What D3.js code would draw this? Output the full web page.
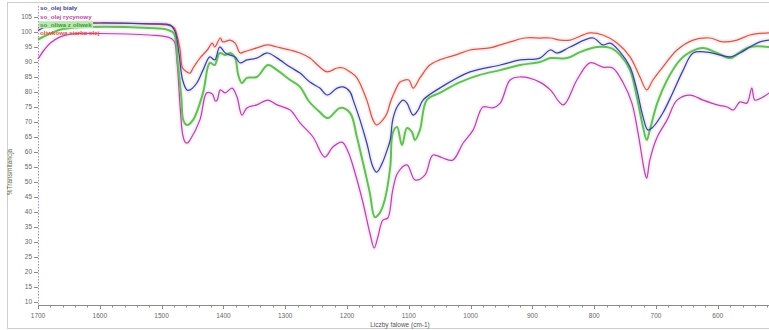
<!DOCTYPE html>
<html>
<head>
<meta charset="utf-8">
<script src="https://cdn.jsdelivr.net/npm/d3@7"></script>
<style>
  body { margin: 0; background: #fff; }
  svg { display: block; font-family: "Liberation Sans", Arial, sans-serif; }
</style>
</head>
<body>
<svg id="chart" width="769" height="330"></svg>
<script>
// FTIR spectra, wavenumber (cm-1) vs %T
const wnBialy = [1700,1685,1660,1600,1520,1486,1478,1472,1466,1459,1454,1443,1433,1422,1414,1406,1397,1389,1381,1373,1362,1346,1329,1313,1292,1276,1260,1244,1232,1216,1206,1195,1190,1179,1168,1158,1152,1143,1135,1130,1126,1119,1109,1103,1093,1085,1077,1050,1001,952,920,888,871,860,839,802,786,774,758,742,731,721,713,705,689,673,656,640,618,596,580,564,548,532,517];
const tBialy  = [100.5,102,102.7,103,102.7,102.3,100,93,84,80.7,80.7,83,87.3,91.7,90.7,95,93,92.3,91.7,89.7,90.7,91.3,93,91.3,88.3,86.3,83.3,81.3,79,81.3,81.7,80,77.3,70.7,63,55,53.3,56.3,60.7,64,70.7,75,77.3,76.3,72.3,74,77.3,81.3,86.7,89,90.7,91.3,94,93,95,98,95.7,96.3,93.3,88.3,80.7,71.7,67.3,68.3,73,79.7,87.3,93,93.3,92.3,91.7,93,95,96.7,97.3];

const wnRycyn = [1700,1690,1680,1665,1648,1600,1520,1490,1480,1475,1470,1466,1462,1458,1454,1438,1427,1418,1413,1410,1405,1397,1386,1378,1370,1362,1346,1328,1313,1292,1276,1255,1236,1223,1208,1198,1187,1174,1163,1156,1150,1142,1134,1126,1118,1103,1090,1074,1061,1045,1029,1012,996,980,964,952,936,920,888,871,850,828,807,786,770,753,739,729,718,715,710,698,682,666,645,624,601,585,575,564,553,545,540,527,517];
const tRycyn  = [91,94,96.3,98.3,99.3,99.5,99,98.3,97,90,75,66,63.3,63,64,70.7,79.7,79.3,77,77.3,80.7,79.7,81.3,78.3,72.3,74.7,75.7,77.3,75.7,74,69.7,65,58.3,61.7,63.3,60,53,43,33,28,31.7,37.3,38,47.3,53,55.7,50.7,52.3,59,58,57.3,63,67.3,75,74.7,76.3,84,85,83.3,80.7,75.7,84,89.7,88.3,88,83,76.3,66.3,53,51.3,57.3,65,70.7,77.3,79,77.3,75.7,75,74,76.7,76.3,81.3,77.3,78.3,79.7];

const wnOliwa = [1700,1680,1660,1620,1520,1490,1480,1474,1468,1465,1459,1449,1433,1422,1414,1406,1397,1389,1381,1376,1370,1362,1346,1328,1313,1292,1276,1262,1245,1231,1211,1195,1184,1174,1163,1155,1147,1139,1130,1126,1119,1111,1103,1095,1090,1082,1071,1050,1017,985,952,920,888,871,844,823,796,774,758,742,731,721,715,710,698,682,661,645,624,601,580,564,548,517];
const tOliwa  = [97.5,99.5,101,101.7,101.3,100.7,99.5,90,78,70.7,69,70.7,79.7,89.7,89,93,92.3,93,91.3,85.7,83,84.7,85,89,87.3,84,81.7,77,73.5,71.3,74.7,73,65,56.3,46.3,38.3,39.7,44,55,66.3,68.3,62.3,68,66.7,64,67.3,77.3,79.7,83.3,85.7,87.3,89,90,91.3,91.3,93.3,95,94.7,92.3,87.3,78.3,68.3,64,67.3,76.3,84,90.7,93.3,94.7,93,91.3,93.3,95,95];

const wnSiarka = [1700,1680,1650,1600,1520,1490,1480,1474,1470,1466,1459,1454,1449,1438,1426,1418,1414,1405,1401,1389,1381,1373,1368,1357,1346,1329,1313,1292,1276,1260,1244,1232,1216,1206,1195,1184,1168,1158,1152,1142,1135,1130,1123,1114,1100,1093,1082,1066,1050,1025,1001,969,936,912,888,871,855,839,807,786,763,742,726,715,705,689,666,640,613,592,569,548,517];
const tSiarka  = [101.5,102.5,103,103,102.7,102.3,101.5,98,94,88,86.7,86.3,88,91.3,94,96.3,95,98,96.7,97.3,96.3,93,93.3,94,94.7,95.7,95,94,93,91.3,88.3,86.7,88,88,86.7,84.7,77.3,70.7,69,70.7,73,76.5,80,83.3,84,81.3,84.7,89,90.7,92.3,94,94.7,96.7,98,98,98,97.3,97.3,99.7,99,96.3,91.7,85,80.7,84,88.3,94,97.3,98,96.7,97.3,99,99.7];

const seriesNames = ["so_olej biały", "so_olej rycynowy", "so_oliwa z oliwek", "oliwkowa siarka olej"];
const seriesColors = ["#3a3db4", "#c43cb4", "#5cc44c", "#f04a3c"];

const xTicks = [1700,1600,1500,1400,1300,1200,1100,1000,900,800,700,600];
const yTicks = [10,15,20,25,30,35,40,45,50,55,60,65,70,75,80,85,90,95,100,105];

const xTitle = "Liczby falowe (cm-1)";
const yTitle = "%Transmitancja";

const svg = d3.select("#chart");

// outer frame of the spectrum window
svg.append("rect").attr("x", 7.5).attr("y", 2.5).attr("width", 775).attr("height", 326)
  .attr("fill", "none").attr("stroke", "#cfcfcf");

const x = d3.scaleLinear().domain([1700, 600]).range([38, 38 + 1100 * 0.618]);
const y = d3.scaleLinear().domain([10, 105]).range([302, 17]);

const axisY = 305;

// x axis
svg.append("line").attr("x1", 38).attr("x2", 769).attr("y1", axisY + 0.5).attr("y2", axisY + 0.5)
  .attr("stroke", "#8a8a8a");
const minor = d3.range(1700, 500, -20);
svg.append("g").selectAll("line").data(minor).join("line")
  .attr("x1", d => Math.round(x(d)) + 0.5).attr("x2", d => Math.round(x(d)) + 0.5)
  .attr("y1", axisY).attr("y2", d => d % 100 === 0 ? axisY + 4 : axisY + 2.5)
  .attr("stroke", "#8a8a8a");
svg.append("g").selectAll("text").data(xTicks).join("text")
  .attr("x", d => x(d)).attr("y", 318)
  .attr("text-anchor", "middle").attr("font-size", 6.5).attr("fill", "#666")
  .text(d => d);
svg.append("text").attr("x", 400).attr("y", 327).attr("text-anchor", "middle")
  .attr("font-size", 6.5).attr("fill", "#555").text(xTitle);

// y axis
svg.append("line").attr("x1", 38.5).attr("x2", 38.5).attr("y1", 6).attr("y2", axisY)
  .attr("stroke", "#b08ac8").attr("stroke-dasharray", "1.5,1.5");
svg.append("g").selectAll("line").data(yTicks).join("line")
  .attr("x1", 34).attr("x2", 38).attr("y1", d => Math.round(y(d)) + 0.5).attr("y2", d => Math.round(y(d)) + 0.5)
  .attr("stroke", "#8a8a8a");
svg.append("g").selectAll("text").data(yTicks).join("text")
  .attr("x", 32).attr("y", d => y(d) + 2.3)
  .attr("text-anchor", "end").attr("font-size", 6.5).attr("fill", "#666")
  .text(d => d);
svg.append("text").attr("transform", "translate(12,172) rotate(-90)")
  .attr("text-anchor", "middle").attr("font-size", 6.5).attr("fill", "#5b6b36").text(yTitle);

// spectra
const seriesData = [
  d3.zip(wnBialy, tBialy),
  d3.zip(wnRycyn, tRycyn),
  d3.zip(wnOliwa, tOliwa),
  d3.zip(wnSiarka, tSiarka)
];
const line = d3.line().x(d => x(d[0])).y(d => y(d[1])).curve(d3.curveCatmullRom.alpha(0.5));
const order = [1, 2, 3, 0];
const plot = svg.append("g");
order.forEach(i => {
  plot.append("path").attr("d", line(seriesData[i])).attr("fill", "none")
    .attr("stroke", seriesColors[i]).attr("stroke-opacity", 0.08).attr("stroke-width", 5);
});
order.forEach(i => {
  plot.append("path").attr("d", line(seriesData[i])).attr("fill", "none")
    .attr("stroke", seriesColors[i]).attr("stroke-width", i === 2 ? 2 : 1.25)
    .attr("stroke-linejoin", "round");
});

// legend
const legend = svg.append("g");
const legY = [8, 16.5, 25, 33];
seriesNames.forEach((name, i) => {
  const t = legend.append("text").attr("x", 40).attr("y", legY[i] + 2.2)
    .attr("font-size", 6.2).attr("font-weight", "bold").attr("fill", seriesColors[i]).text(name);
  if (i === 2) {
    const bb = t.node().getBBox();
    legend.insert("rect", "text").attr("x", bb.x - 1).attr("y", bb.y).attr("width", bb.width + 2)
      .attr("height", bb.height).attr("fill", "#b8eab0");
    t.attr("fill", "#3d9a35");
  }
});
</script>
</body>
</html>
